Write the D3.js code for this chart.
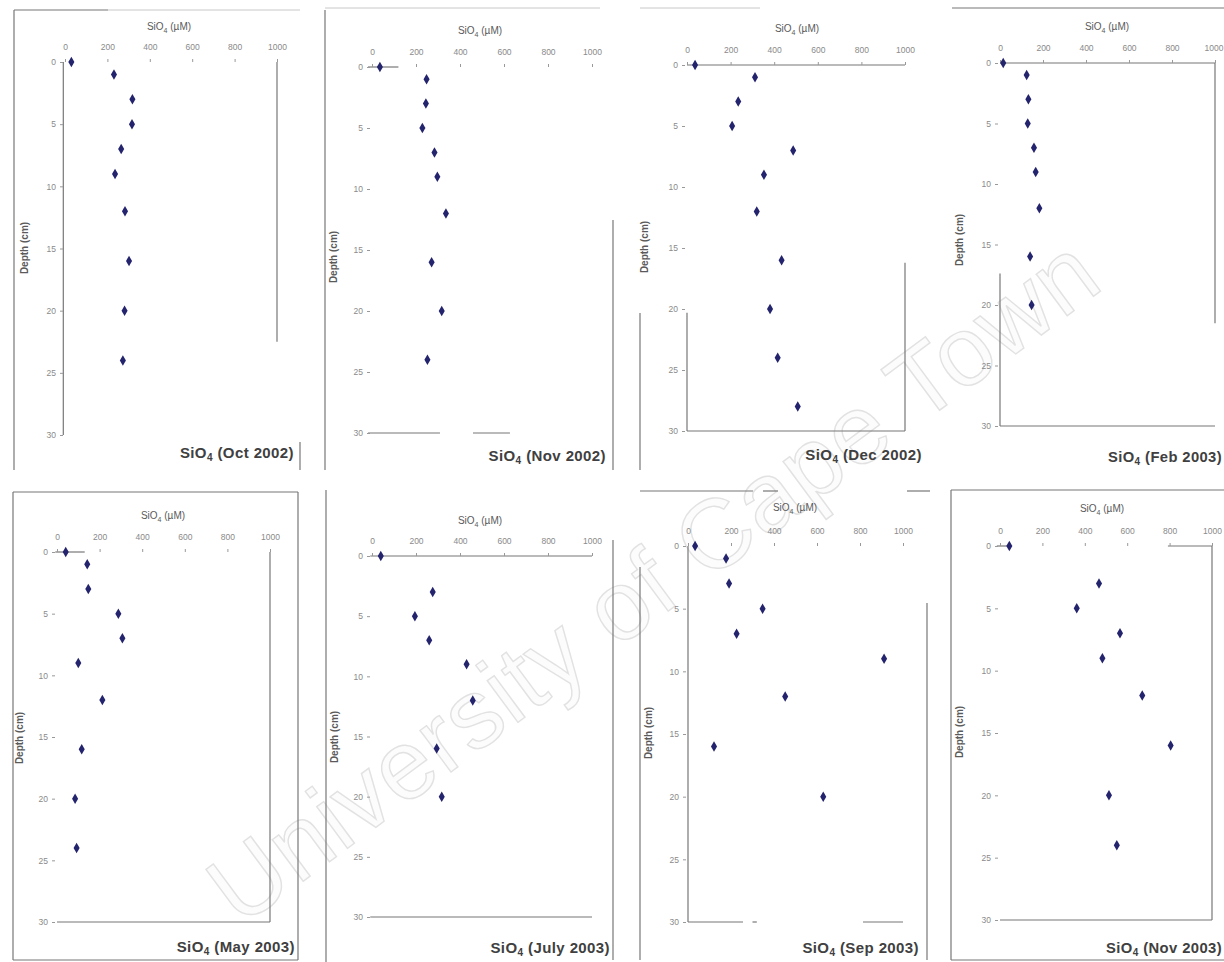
<!DOCTYPE html>
<html>
<head>
<meta charset="utf-8" />
<title>SiO4 pore water profiles</title>
<script src="https://d3js.org/d3.v7.min.js"></script>
<style>
  body { margin: 0; background: #fff; }
  text { font-family: "Liberation Sans", Arial, sans-serif; }
  .tick-label { font-size: 8.5px; fill: #8a8a8a; }
  .axis-title { font-size: 10px; fill: #5a5a5a; }
  .panel-title { font-size: 15px; font-weight: bold; fill: #404040; letter-spacing: 0.4px; }
  .frame { stroke: #777; stroke-width: 1.2; fill: none; }
  .faint { stroke: #c8c8c8; stroke-width: 1; fill: none; }
</style>
</head>
<body>
<script>
// depth (cm) and SiO4 (uM)
var depthOct02 = [0, 1, 3, 5, 7, 9, 12, 16, 20, 24];
var sioOct02   = [30, 231, 318, 316, 265, 236, 283, 302, 281, 273];

var depthNov02 = [0, 1, 3, 5, 7, 9, 12, 16, 20, 24];
var sioNov02   = [36, 248, 245, 229, 284, 297, 336, 271, 317, 252];

var depthDec02 = [0, 1, 3, 5, 7, 9, 12, 16, 20, 24, 28];
var sioDec02   = [37, 312, 235, 207, 487, 353, 320, 434, 381, 416, 508];

var depthFeb03 = [0, 1, 3, 5, 7, 9, 12, 16, 20];
var sioFeb03   = [15, 124, 132, 129, 158, 166, 183, 140, 147];

var depthMay03 = [0, 1, 3, 5, 7, 9, 12, 16, 20, 24];
var sioMay03   = [41, 142, 147, 288, 307, 100, 213, 116, 85, 92];

var depthJul03 = [0, 3, 5, 7, 9, 12, 16, 20];
var sioJul03   = [40, 276, 195, 260, 430, 458, 294, 317];

var depthSep03 = [0, 1, 3, 5, 7, 9, 12, 16, 20];
var sioSep03   = [33, 177, 191, 347, 226, 912, 452, 121, 629];

var depthNov03 = [0, 3, 5, 7, 9, 12, 16, 20, 24];
var sioNov03   = [44, 467, 362, 566, 483, 671, 805, 514, 551];

var panelNames = ["Oct 2002", "Nov 2002", "Dec 2002", "Feb 2003",
                  "May 2003", "July 2003", "Sep 2003", "Nov 2003"];
var depths = [depthOct02, depthNov02, depthDec02, depthFeb03, depthMay03, depthJul03, depthSep03, depthNov03];
var values = [sioOct02, sioNov02, sioDec02, sioFeb03, sioMay03, sioJul03, sioSep03, sioNov03];

var xTicks = [0, 200, 400, 600, 800, 1000];
var yTicks = [0, 5, 10, 15, 20, 25, 30];

// where each scanned panel sits on the page, plus which bits of its frame survived the scan
// plot lines are [value1, depth1, value2, depth2]; frame lines are page pixels
// tx/ty: title anchor; ta: "end" or "start"
var layout = [
  {x0: 65, x1: 277, y0: 62, y1: 435, ax: 169, ay: 30, dx: 28, dy: 248, tx: 294, ty: 458, ta: "end",
   plot: [[-8, 0, -8, 30], [1000, 0, 1000, 22.5]],
   frame: [[14, 10, 14, 470], [14, 10, 108, 10], [300, 442, 300, 470]],
   faint: [[108, 10, 300, 10]]},
  {x0: 372, x1: 592, y0: 67, y1: 433, ax: 480, ay: 34, dx: 337, dy: 257, tx: 606, ty: 461, ta: "end",
   plot: [[-18, 0, 120, 0], [-18, 30, 309, 30], [459, 30, 627, 30]],
   frame: [[325, 10, 325, 470], [613, 220, 613, 470]],
   faint: [[325, 8, 600, 8]]},
  {x0: 687, x1: 905, y0: 65, y1: 431, ax: 797, ay: 32, dx: 648, dy: 247, tx: 922, ty: 460, ta: "end",
   plot: [[0, 0, 1000, 0], [0, 30, 1000, 30], [0, 20.3, 0, 30], [1000, 16.2, 1000, 30]],
   frame: [[640, 313, 640, 470]],
   faint: [[640, 8, 760, 8]]},
  {x0: 1000, x1: 1215, y0: 63, y1: 426, ax: 1107, ay: 30, dx: 963, dy: 240, tx: 1108, ty: 462, ta: "start",
   plot: [[0, 0, 1000, 0], [0, 30, 1000, 30], [0, 17.4, 0, 30], [1000, 0, 1000, 21.5]],
   frame: [[952, 8, 1224, 8]],
   faint: []},
  {x0: 57, x1: 270, y0: 552, y1: 922, ax: 163, ay: 519, dx: 23, dy: 738, tx: 295, ty: 952, ta: "end",
   plot: [[-8, 0, 130, 0], [0, 30, 1000, 30], [1000, 0, 1000, 30]],
   frame: [[13, 492, 298, 492], [13, 492, 13, 960], [298, 492, 298, 960], [13, 960, 298, 960]],
   faint: []},
  {x0: 372, x1: 592, y0: 556, y1: 917, ax: 480, ay: 524, dx: 338, dy: 737, tx: 610, ty: 953, ta: "end",
   plot: [[-8, 0, 1000, 0], [-8, 30, 1000, 30]],
   frame: [[326, 490, 326, 962], [613, 540, 613, 960]],
   faint: []},
  {x0: 688, x1: 903, y0: 546, y1: 922, ax: 795, ay: 511, dx: 652, dy: 733, tx: 919, ty: 953, ta: "end",
   plot: [[0, 0, 0, 30], [0, 30, 256, 30], [300, 30, 320, 30], [814, 30, 1000, 30]],
   frame: [[640, 567, 640, 960], [927, 603, 927, 960], [640, 491, 753, 491], [763, 491, 778, 491], [907, 491, 930, 491]],
   faint: []},
  {x0: 1000, x1: 1212, y0: 546, y1: 920, ax: 1102, ay: 512, dx: 963, dy: 732, tx: 1106, ty: 953, ta: "start",
   plot: [[-15, 0, 40, 0], [792, 0, 1000, 0], [1000, 0, 1000, 30], [0, 30, 1000, 30]],
   frame: [[951, 490, 951, 960], [951, 490, 1224, 490], [951, 960, 1224, 960]],
   faint: []}
];

var W = 1224, H = 962;

var svg = d3.select("body").append("svg")
    .attr("width", W)
    .attr("height", H);

// the repository watermark sits under everything
svg.append("text")
    .attr("transform", "translate(240,928)rotate(-36.5)")
    .style("font-size", "98px")
    .style("letter-spacing", "1px")
    .style("fill", "#fcfcfc")
    .style("stroke", "#e2e2e2")
    .style("stroke-width", 1.4)
    .text("University of Cape Town");

layout.forEach(function(L, p) {
  var x = d3.scaleLinear().domain([0, 1000]).range([L.x0, L.x1]);
  var y = d3.scaleLinear().domain([0, 30]).range([L.y0, L.y1]);
  var g = svg.append("g").attr("class", "panel");

  // bits of the outer chart box
  L.frame.forEach(function(s) {
    g.append("line").attr("class", "frame")
      .attr("x1", s[0]).attr("y1", s[1]).attr("x2", s[2]).attr("y2", s[3]);
  });
  L.faint.forEach(function(s) {
    g.append("line").attr("class", "faint")
      .attr("x1", s[0]).attr("y1", s[1]).attr("x2", s[2]).attr("y2", s[3]);
  });

  // plot area lines
  L.plot.forEach(function(s) {
    g.append("line").attr("class", "frame")
      .attr("x1", x(s[0])).attr("y1", y(s[1])).attr("x2", x(s[2])).attr("y2", y(s[3]));
  });

  // top axis (SiO4) - labels and tiny ticks
  var xa = g.append("g")
      .attr("transform", "translate(0," + L.y0 + ")")
      .call(d3.axisTop(x).tickValues(xTicks).tickFormat(d3.format("d")).tickSize(3).tickPadding(9));
  xa.attr("font-family", null).attr("font-size", null);
  xa.select(".domain").remove();
  xa.selectAll(".tick line").attr("stroke", "#999");
  xa.selectAll(".tick text").attr("class", "tick-label").attr("fill", null)
    .attr("text-anchor", function(d) { return x(d) + 10 > W ? "end" : "middle"; })
    .attr("x", function(d) { return x(d) + 10 > W ? W - 1 - x(d) : 0; });

  // left axis (depth)
  var ya = g.append("g")
      .attr("transform", "translate(" + (L.x0 - 2) + ",0)")
      .call(d3.axisLeft(y).tickValues(yTicks).tickSize(3).tickPadding(4));
  ya.attr("font-family", null).attr("font-size", null);
  ya.select(".domain").remove();
  ya.selectAll(".tick line").attr("stroke", "#999");
  ya.selectAll(".tick text").attr("class", "tick-label").attr("fill", null);

  // axis titles
  var at = g.append("text").attr("class", "axis-title")
      .attr("x", L.ax).attr("y", L.ay).attr("text-anchor", "middle");
  at.append("tspan").text("SiO");
  at.append("tspan").attr("dy", 3).style("font-size", "7px").text("4");
  at.append("tspan").attr("dy", -3).text(" (\u00b5M)");

  g.append("text").attr("class", "axis-title")
      .attr("transform", "translate(" + L.dx + "," + L.dy + ")rotate(-90)")
      .attr("text-anchor", "middle")
      .style("font-weight", "bold")
      .text("Depth (cm)");

  // panel title, bottom right
  var tt = g.append("text").attr("class", "panel-title")
      .attr("x", L.tx).attr("y", L.ty).attr("text-anchor", L.ta);
  tt.append("tspan").text("SiO");
  tt.append("tspan").attr("dy", 3).style("font-size", "10px").text("4");
  tt.append("tspan").attr("dy", -3).text(" (" + panelNames[p] + ")");
  // the right-hand column runs off the page in the scan; keep the text inside
  if (L.ta === "start") {
    var room = W - 2 - L.tx, len = tt.node().getComputedTextLength();
    if (len > room) tt.style("font-size", (15 * room / len) + "px");
  }

  // the profile points
  var pts = depths[p].map(function(d, i) { return {depth: d, v: values[p][i]}; });
  g.selectAll(".pt")
    .data(pts)
    .enter().append("path")
      .attr("class", "pt")
      .attr("d", d3.symbol().type(d3.symbolDiamond).size(32))
      .attr("transform", function(d) { return "translate(" + x(d.v) + "," + y(d.depth) + ")"; })
      .attr("fill", "#23236e");
});
</script>
</body>
</html>
